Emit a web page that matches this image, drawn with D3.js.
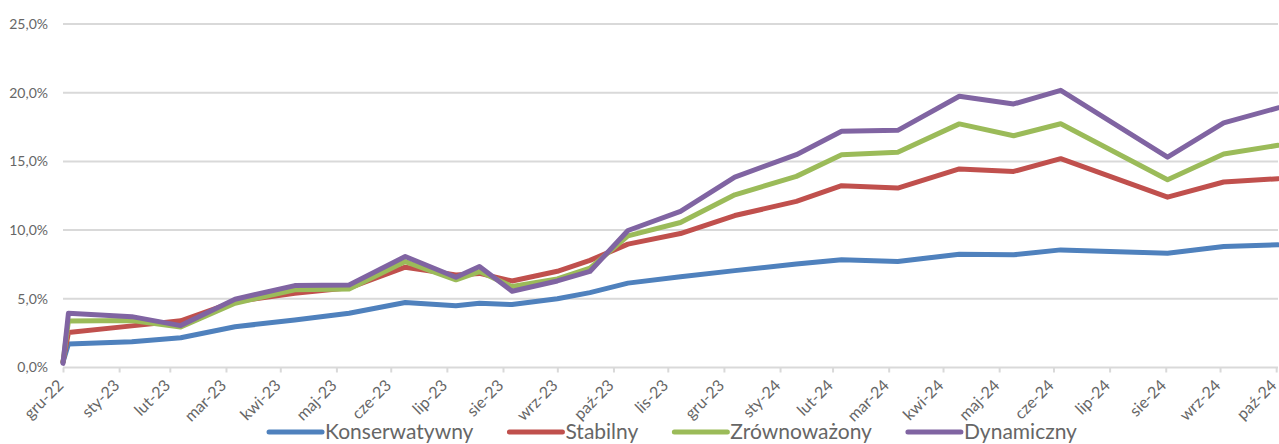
<!DOCTYPE html>
<html>
<head>
<meta charset="utf-8">
<script src="https://cdn.jsdelivr.net/npm/d3@7"></script>
<style>
  body { margin: 0; background: #fff; }
  svg text { font-family: Lato, "Open Sans", sans-serif; fill: #666; }
</style>
</head>
<body>
<svg></svg>
<script>
const dates = ["2022-12-31", "2023-01-03", "2023-02-07", "2023-03-06", "2023-04-05", "2023-05-08",
               "2023-06-07", "2023-07-08", "2023-08-05", "2023-08-18", "2023-09-05", "2023-09-30",
               "2023-10-18", "2023-11-08", "2023-12-07", "2024-01-06", "2024-02-09", "2024-03-05",
               "2024-04-05", "2024-05-09", "2024-06-08", "2024-07-04", "2024-09-01", "2024-10-02",
               "2024-11-01"];

const konserwatywny = [0.4, 1.71, 1.88, 2.17, 2.97, 3.45, 3.95, 4.73, 4.5, 4.68, 4.58, 5.0, 5.45,
                       6.14, 6.6, 7.05, 7.54, 7.84, 7.71, 8.25, 8.2, 8.56, 8.32, 8.8, 8.93];
const stabilny = [0.4, 2.54, 3.03, 3.4, 4.8, 5.4, 5.8, 7.3, 6.74, 6.85, 6.3, 7.0, 7.8,
                  8.98, 9.75, 11.06, 12.09, 13.23, 13.06, 14.45, 14.27, 15.2, 12.4, 13.5, 13.74];
const zrownowazony = [0.4, 3.39, 3.42, 2.95, 4.68, 5.65, 5.72, 7.71, 6.38, 6.98, 5.89, 6.45, 7.23,
                      9.58, 10.55, 12.57, 13.91, 15.49, 15.66, 17.73, 16.87, 17.74, 13.67, 15.54, 16.17];
const dynamiczny = [0.3, 3.95, 3.7, 3.05, 4.97, 5.96, 6.01, 8.08, 6.57, 7.35, 5.55, 6.3, 6.99,
                    9.97, 11.36, 13.86, 15.49, 17.19, 17.26, 19.74, 19.18, 20.17, 15.31, 17.8, 18.9];

const seriesNames = ["Konserwatywny", "Stabilny", "Zrównoważony", "Dynamiczny"];
const seriesColors = ["#4f81bd", "#c0504d", "#9bbb59", "#8064a2"];

const tickLabels = ["gru-22", "sty-23", "lut-23", "mar-23", "kwi-23", "maj-23", "cze-23", "lip-23",
                    "sie-23", "wrz-23", "paź-23", "lis-23", "gru-23", "sty-24", "lut-24", "mar-24",
                    "kwi-24", "maj-24", "cze-24", "lip-24", "sie-24", "wrz-24", "paź-24"];
const yTicks = [0, 5, 10, 15, 20, 25];

const width = 1279, height = 444;
const svg = d3.select("svg")
    .attr("width", width)
    .attr("height", height);

const parse = d3.timeParse("%Y-%m-%d");
const x = d3.scaleTime()
    .domain([parse("2022-12-31"), parse("2024-11-01")])
    .range([63, 1278]);
const y = d3.scaleLinear()
    .domain([0, 25])
    .range([367.5, 24]);

// ticks sit on the last day of each month
const tickDates = tickLabels.map((t, i) => d3.timeDay.offset(d3.timeMonth.offset(parse("2023-01-01"), i), -1));

// grid
svg.append("g")
  .selectAll("line")
  .data(yTicks)
  .enter()
  .append("line")
    .attr("x1", 63)
    .attr("x2", 1278)
    .attr("y1", d => y(d))
    .attr("y2", d => y(d))
    .style("stroke", "#d9d9d9")
    .style("stroke-width", 2);

svg.append("g")
  .selectAll("text")
  .data(yTicks)
  .enter()
  .append("text")
    .attr("x", 48)
    .attr("y", d => y(d))
    .attr("dy", "0.35em")
    .attr("text-anchor", "end")
    .attr("font-size", 14)
    .text(d => d3.format(".1f")(d).replace(".", ",") + "%");

// x axis
const xAxis = svg.append("g")
    .attr("transform", `translate(0,${y(0)})`)
    .call(d3.axisBottom(x)
      .tickValues(tickDates)
      .tickSize(5)
      .tickFormat((d, i) => tickLabels[i]));

xAxis.select(".domain").remove();
xAxis.selectAll(".tick line")
    .style("stroke", "#d9d9d9")
    .style("stroke-width", 2);
xAxis.selectAll(".tick text")
    .attr("font-size", 16)
    .attr("font-family", null)
    .attr("text-anchor", "end")
    .attr("x", 0)
    .attr("y", 0)
    .attr("dy", "0.35em")
    .attr("transform", "translate(-3,15) rotate(-45)");

// series
const table = seriesNames.map((name, k) => ({
  name: name,
  color: seriesColors[k],
  values: [konserwatywny, stabilny, zrownowazony, dynamiczny][k].map((v, i) => ({date: parse(dates[i]), value: v}))
}));

const line = d3.line()
    .x(d => x(d.date))
    .y(d => y(d.value));

svg.append("g")
  .selectAll("path")
  .data(table)
  .enter()
  .append("path")
    .attr("d", d => line(d.values))
    .style("fill", "none")
    .style("stroke", d => d.color)
    .style("stroke-width", 5)
    .style("stroke-linejoin", "round")
    .style("stroke-linecap", "round");

// legend
const legend = svg.append("g");
let lx = 0;
table.forEach((d, k) => {
  const item = legend.append("g").attr("transform", `translate(${lx},0)`);
  item.append("line")
      .attr("x1", 2).attr("x2", 55)
      .attr("y1", 0).attr("y2", 0)
      .style("stroke", d.color)
      .style("stroke-width", 5)
      .style("stroke-linecap", "round");
  const t = item.append("text")
      .attr("x", 58)
      .attr("dy", "0.35em")
      .attr("font-size", 21)
      .text(d.name);
  lx += 58 + t.node().getComputedTextLength() + 34;
});
lx -= 34;
legend.attr("transform", `translate(${672 - lx / 2},432)`);
</script>
</body>
</html>
